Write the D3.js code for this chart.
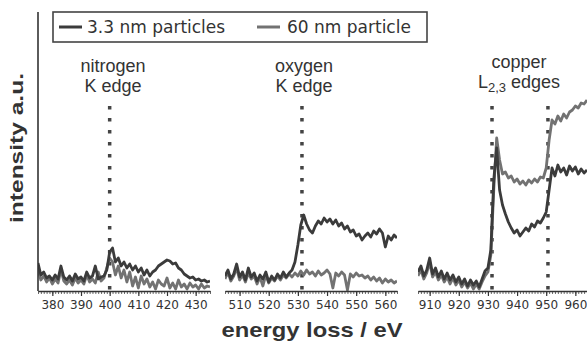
<!DOCTYPE html>
<html>
<head>
<meta charset="utf-8">
<script src="https://cdn.jsdelivr.net/npm/d3@7"></script>
<style>
  body { margin: 0; background: #fff; }
  svg { display: block; }
</style>
</head>
<body>
<svg id="chart"></svg>
<script>
// series labels
const seriesNames = ["3.3 nm particles", "60 nm particle"];

// edge panels: energy window (eV), 1 eV sampling starting at the first energy
const nitrogenRange = [375, 435];
const oxygenRange = [505, 564];
const copperRange = [906, 964];

const nitrogenTicks = [380, 390, 400, 410, 420, 430];
const oxygenTicks = [510, 520, 530, 540, 550, 560];
const copperTicks = [910, 920, 930, 940, 950, 960];

// edge markers (eV)
const nitrogenEdges = [400];
const oxygenEdges = [531.4];
const copperEdges = [931.4, 950.6];

// intensities a.u. (one value per eV)
const nitrogenSmall = [28,16,19,13,15,11,16,12,25,14,11,15,10,17,12,14,10,19,13,15,25,12,14,15,21,39,43,29,33,25,29,23,27,21,25,19,23,16,21,15,19,21,25,27,29,31,30,27,28,23,21,17,15,13,14,11,12,10,11,9,10];
const nitrogenLarge = [21,11,15,9,13,7,12,8,21,10,7,11,6,13,8,11,7,16,9,12,8,19,10,13,23,33,29,16,25,13,21,9,19,5,14,3,15,7,12,4,9,2,11,7,5,13,3,8,2,11,4,7,2,8,4,6,2,7,3,5,4];

const oxygenSmall = [15,21,12,17,27,14,19,11,23,14,18,10,16,12,19,9,15,11,17,13,19,14,18,21,29,46,66,76,67,61,58,65,70,67,73,69,72,67,71,65,68,62,65,59,61,55,57,51,55,58,54,60,57,62,58,44,55,51,56,53];
const oxygenLarge = [12,19,10,15,23,11,16,9,18,12,15,7,14,5,16,8,13,10,15,11,16,13,17,14,18,15,20,16,21,17,19,15,20,16,18,21,17,3,18,15,19,16,1,17,14,18,15,16,13,15,11,14,10,13,8,12,9,11,8,10];

const copperSmall = [19,25,15,21,33,17,23,14,20,12,18,11,16,9,14,7,12,5,11,6,10,4,12,20,23,41,111,143,101,86,77,69,63,58,61,55,59,63,60,67,64,70,68,73,79,101,123,115,126,119,123,116,125,120,124,117,122,118,121];
const copperLarge = [15,21,12,18,29,14,19,11,16,9,14,7,13,6,11,4,9,3,8,2,7,2,9,15,19,36,101,153,131,117,119,113,115,109,112,107,110,106,111,108,112,109,114,113,123,151,171,167,175,170,177,173,179,181,185,183,188,187,191];

const W = 587, H = 344;
const darkColor = "#3b3b3b", lightColor = "#727272", inkColor = "#333";
const baseY = 291, topY = 12;

const svg = d3.select("#chart").attr("width", W).attr("height", H);

const yScale = d3.scaleLinear().domain([0, 279]).range([baseY, topY]);

const panels = [
  { range: nitrogenRange, px: [38, 210], ticks: nitrogenTicks, edges: nitrogenEdges,
    small: nitrogenSmall, large: nitrogenLarge, title: ["nitrogen", "K edge"], titleY: 72 },
  { range: oxygenRange, px: [225, 397], ticks: oxygenTicks, edges: oxygenEdges,
    small: oxygenSmall, large: oxygenLarge, title: ["oxygen", "K edge"], titleY: 72 },
  { range: copperRange, px: [418, 587], ticks: copperTicks, edges: copperEdges,
    small: copperSmall, large: copperLarge, title: ["copper", "L"], titleY: 68 }
];

panels.forEach((p, i) => {
  const x = d3.scaleLinear().domain(p.range).range(p.px);
  const energies = d3.range(p.range[0], p.range[1] + 1);

  const g = svg.append("g");
  g.append("defs").append("clipPath").attr("id", "clip" + i)
    .append("rect").attr("x", p.px[0]).attr("y", 0)
    .attr("width", p.px[1] - p.px[0]).attr("height", baseY);

  // edge markers
  g.selectAll(".edge").data(p.edges).join("line")
    .attr("x1", d => x(d)).attr("x2", d => x(d))
    .attr("y1", 106).attr("y2", baseY)
    .attr("stroke", "#444").attr("stroke-width", 3.5)
    .attr("stroke-dasharray", "3.5,8.5");

  const line = d3.line()
    .x((d, j) => x(energies[j]))
    .y(d => yScale(d));

  const curves = g.append("g").attr("clip-path", "url(#clip" + i + ")");
  curves.append("path").datum(p.large)
    .attr("d", line).attr("fill", "none")
    .attr("stroke", lightColor).attr("stroke-width", 2.8)
    .attr("stroke-linejoin", "round");
  curves.append("path").datum(p.small)
    .attr("d", line).attr("fill", "none")
    .attr("stroke", darkColor).attr("stroke-width", 2.8)
    .attr("stroke-linejoin", "round");

  // minor ticks every eV
  const minor = g.append("g").attr("transform", "translate(0," + baseY + ")")
    .call(d3.axisBottom(x).tickValues(energies).tickSize(3).tickFormat(""));
  minor.select(".domain").remove();
  minor.selectAll(".tick line").attr("stroke", "#444").attr("stroke-width", 0.8);

  const ax = g.append("g").attr("transform", "translate(0," + baseY + ")")
    .call(d3.axisBottom(x).tickValues(p.ticks).tickSize(5).tickSizeOuter(0).tickPadding(4));
  ax.select(".domain").attr("stroke", "#333").attr("stroke-width", 1.6);
  ax.selectAll(".tick line").attr("stroke", "#333").attr("stroke-width", 1.2);
  ax.selectAll(".tick text")
    .attr("font-family", "DejaVu Sans, sans-serif").attr("font-size", 12)
    .attr("fill", inkColor);

  // panel title
  const cx = i === 0 ? 113 : i === 1 ? 304 : 519;
  const t = g.append("g").attr("font-family", "Liberation Sans, Arial, sans-serif")
    .attr("font-size", 18).attr("fill", inkColor).attr("text-anchor", "middle");
  t.append("text").attr("x", cx).attr("y", p.titleY).text(p.title[0]);
  const t2 = t.append("text").attr("x", cx).attr("y", p.titleY + 20);
  if (i === 2) {
    t2.append("tspan").text("L");
    t2.append("tspan").attr("dy", 4).attr("font-size", 13).text("2,3");
    t2.append("tspan").attr("dy", -4).text(" edges");
  } else {
    t2.text(p.title[1]);
  }
});

// left axis line
svg.append("line").attr("x1", 38).attr("x2", 38).attr("y1", topY).attr("y2", baseY)
  .attr("stroke", "#333").attr("stroke-width", 1.6);

// axis titles
svg.append("text")
  .attr("transform", "translate(23,148) rotate(-90)")
  .attr("text-anchor", "middle")
  .attr("font-family", "Liberation Sans, Arial, sans-serif")
  .attr("font-weight", "bold").attr("font-size", 19)
  .attr("fill", inkColor)
  .attr("textLength", 150).attr("lengthAdjust", "spacingAndGlyphs")
  .text("intensity a.u.");

svg.append("text")
  .attr("x", 312).attr("y", 337)
  .attr("text-anchor", "middle")
  .attr("font-family", "Liberation Sans, Arial, sans-serif")
  .attr("font-weight", "bold").attr("font-size", 21)
  .attr("fill", inkColor)
  .attr("textLength", 181).attr("lengthAdjust", "spacingAndGlyphs")
  .text("energy loss / eV");

// legend
const legend = svg.append("g");
legend.append("rect").attr("x", 53).attr("y", 12).attr("width", 374).attr("height", 30)
  .attr("fill", "#fff").attr("stroke", "#444").attr("stroke-width", 1.6);
const legendX = [[59, 82, 87], [257, 280, 287]];
legend.selectAll("g").data(seriesNames).join("g").each(function (name, k) {
  const e = d3.select(this);
  e.append("line").attr("x1", legendX[k][0]).attr("x2", legendX[k][1])
    .attr("y1", 27).attr("y2", 27)
    .attr("stroke", k === 0 ? darkColor : lightColor).attr("stroke-width", 3);
  e.append("text").attr("x", legendX[k][2]).attr("y", 33)
    .attr("font-family", "DejaVu Sans, sans-serif").attr("font-size", 17)
    .attr("fill", inkColor).text(name);
});
</script>
</body>
</html>
